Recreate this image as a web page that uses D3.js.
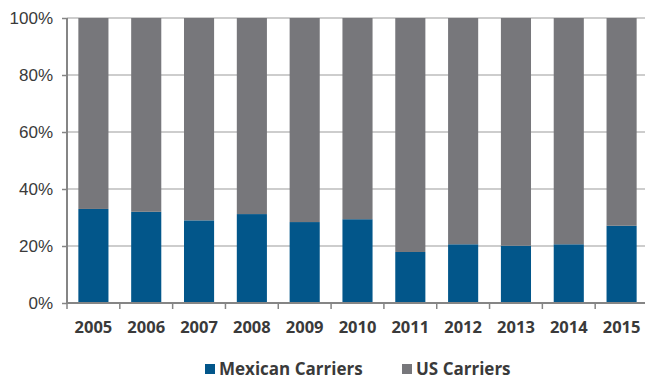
<!DOCTYPE html>
<html>
<head>
<meta charset="utf-8">
<script src="https://cdn.jsdelivr.net/npm/d3@7"></script>
<style>
  body { margin: 0; background: #fff; }
  svg { display: block; font-family: "Open Sans", "DejaVu Sans", sans-serif; }
</style>
</head>
<body>
<svg id="chart" width="645" height="379"></svg>
<script>
// chart data
const years = ['2005', '2006', '2007', '2008', '2009', '2010', '2011', '2012', '2013', '2014', '2015'];
const mexican = [33, 32, 29, 31.2, 28.4, 29.4, 17.9, 20.6, 20.1, 20.6, 27.1];
const us = mexican.map(v => 100 - v); // shares add to 100%
const yTicks = [0, 20, 40, 60, 80, 100];
const seriesNames = ['Mexican Carriers', 'US Carriers'];
const colors = ['#02568a', '#77777b'];

const margin = { top: 18, right: -3, bottom: 75, left: 67 };
const width = 645, height = 379;

const svg = d3.select('#chart');

const x = d3.scaleBand()
    .domain(years)
    .range([margin.left, width - margin.right])
    .paddingInner(0.43)
    .paddingOuter(0.215);

const y = d3.scaleLinear()
    .domain([0, 100])
    .range([height - margin.bottom - 1, margin.top]);

// gridlines
svg.append('g')
    .selectAll('line')
    .data(yTicks.slice(1))
    .join('line')
    .attr('x1', margin.left)
    .attr('x2', width)
    .attr('y1', d => y(d))
    .attr('y2', d => y(d))
    .attr('stroke', '#bcbcbc')
    .attr('stroke-width', 1.5);

// stacked bars
const rows = years.map((yr, i) => ({ year: yr, mex: mexican[i], us: us[i] }));
const stacked = d3.stack().keys(['mex', 'us'])(rows);

svg.append('g')
    .selectAll('g')
    .data(stacked)
    .join('g')
    .attr('fill', (d, i) => colors[i])
    .selectAll('rect')
    .data(d => d)
    .join('rect')
    .attr('x', d => x(d.data.year))
    .attr('width', x.bandwidth())
    .attr('y', d => y(d[1]))
    .attr('height', d => y(d[0]) - y(d[1]));

// y axis
const yAxis = svg.append('g')
    .attr('transform', `translate(${margin.left},0)`)
    .call(d3.axisLeft(y).tickValues(yTicks).tickFormat(d => d + '%').tickSize(5).tickPadding(9));
yAxis.select('.domain').attr('stroke', '#858585').attr('stroke-width', 2).attr('d', `M0,${y(0)}V${y(100)}`);
yAxis.selectAll('.tick line').attr('stroke', '#858585').attr('stroke-width', 1.5);
yAxis.selectAll('text')
    .attr('fill', '#3a3a3a')
    .style('font-size', '17px');

// x axis with ticks at band edges
const step = x.step();
const edges = years.map((yr, i) => margin.left + i * step);
const xg = svg.append('g');
xg.append('line')
    .attr('x1', margin.left - 1)
    .attr('x2', width)
    .attr('y1', y(0))
    .attr('y2', y(0))
    .attr('stroke', '#858585')
    .attr('stroke-width', 2);
xg.selectAll('line.tk')
    .data(edges)
    .join('line')
    .attr('class', 'tk')
    .attr('x1', d => d)
    .attr('x2', d => d)
    .attr('y1', y(0))
    .attr('y2', y(0) + 6)
    .attr('stroke', '#858585')
    .attr('stroke-width', 1.5);
xg.selectAll('text')
    .data(years)
    .join('text')
    .attr('x', d => x(d) + x.bandwidth() / 2)
    .attr('y', y(0) + 30)
    .attr('text-anchor', 'middle')
    .attr('fill', '#3a3a3a')
    .style('font-size', '16.5px')
    .style('font-weight', 'bold')
    .text(d => d);

// legend
const legendX = [205, 402];
const legend = svg.append('g');
seriesNames.forEach((name, i) => {
    legend.append('rect')
        .attr('x', legendX[i])
        .attr('y', 364)
        .attr('width', 10)
        .attr('height', 10)
        .attr('fill', colors[i]);
    legend.append('text')
        .attr('x', legendX[i] + 14)
        .attr('y', 375)
        .attr('fill', '#3a3a3a')
        .style('font-size', '17px')
        .style('font-weight', 'bold')
        .text(name);
});
</script>
</body>
</html>
